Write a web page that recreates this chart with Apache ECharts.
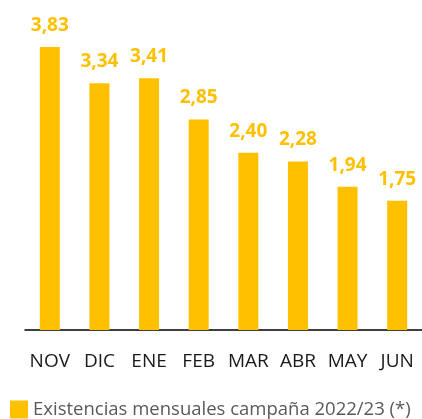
<!DOCTYPE html>
<html>
<head>
<meta charset="utf-8">
<script src="https://cdn.jsdelivr.net/npm/echarts@6/dist/echarts.min.js"></script>
<style>
  html, body { margin: 0; padding: 0; background: #fff; }
  #chart { width: 422px; height: 419px; }
</style>
</head>
<body>
<div id="chart"></div>
<script>
var months = ['NOV', 'DIC', 'ENE', 'FEB', 'MAR', 'ABR', 'MAY', 'JUN'];
var existencias = [3.83, 3.34, 3.41, 2.85, 2.40, 2.28, 1.94, 1.75];
var serieName = 'Existencias mensuales campaña 2022/23 (*)';

var chart = echarts.init(document.getElementById('chart'));
chart.setOption({
    animation: false,
    grid: { left: 25, right: -3, top: 5, bottom: 89 },
    legend: {
        data: [serieName],
        left: 5,
        top: 395,
        icon: 'rect',
        itemWidth: 18,
        itemHeight: 18,
        itemGap: 10,
        textStyle: { color: '#595959', fontSize: 18.5, fontFamily: 'Open Sans' }
    },
    xAxis: {
        type: 'category',
        data: months,
        axisLine: { lineStyle: { color: '#000', width: 1.5 } },
        axisTick: { show: false },
        axisLabel: { interval: 0, hideOverlap: false, color: '#1a1a1a', fontSize: 19, margin: 22, fontFamily: 'Open Sans' }
    },
    yAxis: {
        type: 'value',
        min: 0,
        max: 4.4,
        show: false,
        splitLine: { show: false }
    },
    series: [{
        name: serieName,
        type: 'bar',
        data: existencias,
        barWidth: 20,
        itemStyle: { color: '#FFC000' },
        label: {
            show: true,
            position: 'top',
            distance: 12,
            color: '#FFC000',
            fontSize: 19,
            fontWeight: 'bold',
            fontFamily: 'Open Sans',
            formatter: function (p) { return p.value.toFixed(2).replace('.', ','); }
        }
    }]
});
</script>
</body>
</html>
